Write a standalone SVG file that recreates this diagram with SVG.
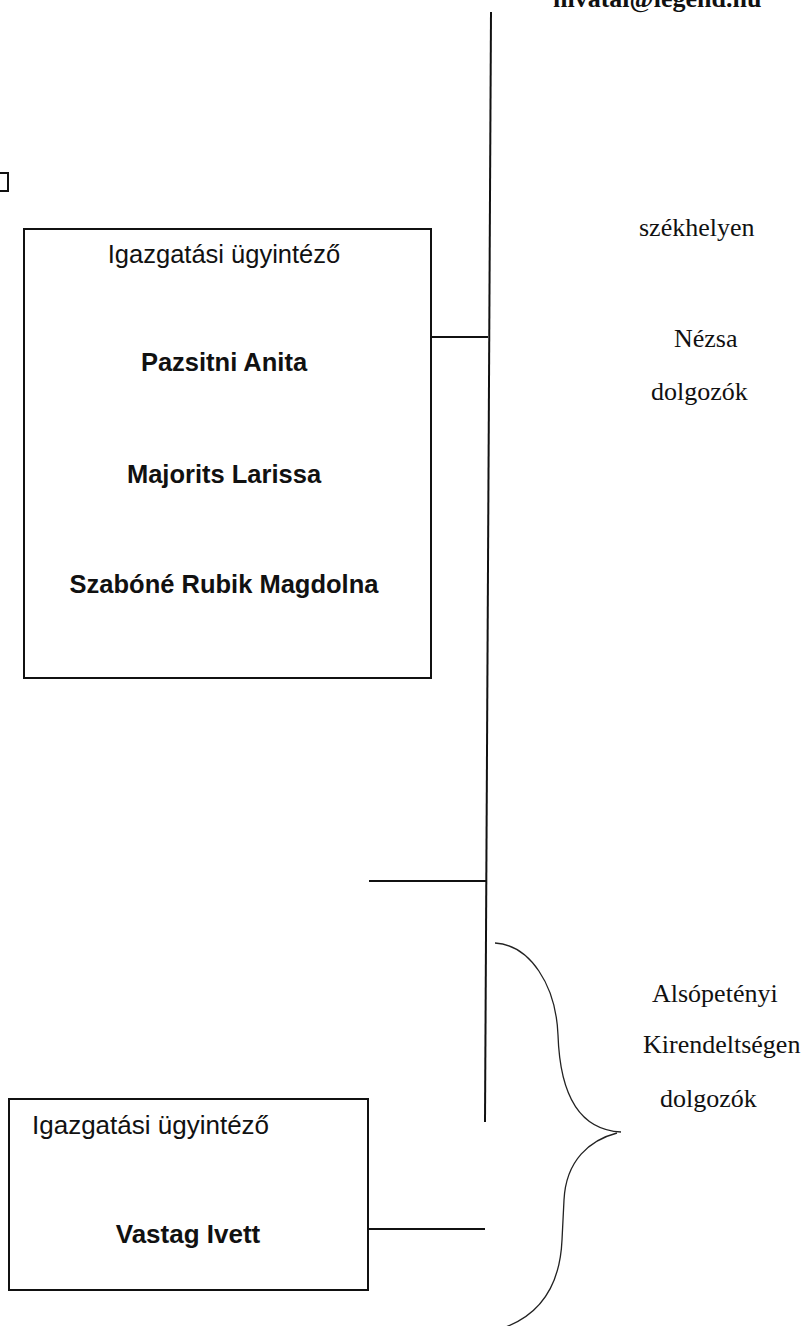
<svg xmlns="http://www.w3.org/2000/svg" width="806" height="1326" viewBox="0 0 806 1326">
<style>
.box{fill:#fff;stroke:#111;stroke-width:2}
.ln{stroke:#111;stroke-width:2;fill:none}
.br{stroke:#222;stroke-width:1.3;fill:none}
.sans{font-family:"Liberation Sans",Arial,sans-serif;fill:#111}
.b{font-weight:bold}
.serif{font-family:"Liberation Serif","Times New Roman",serif;fill:#111;font-size:26px}
</style>
<rect width="806" height="1326" fill="#fff"/>
<text x="553" y="7" class="serif b" font-size="25.5">hivatal@legend.hu</text>
<rect x="-8" y="173" width="16" height="18" class="box"/>
<g id="connectors">
<line x1="491" y1="12" x2="485" y2="1122" class="ln"/>
<line x1="431" y1="337" x2="488" y2="337" class="ln"/>
<line x1="369" y1="881" x2="487" y2="881" class="ln"/>
<line x1="368" y1="1229" x2="485" y2="1229" class="ln"/>
<path class="br" d="M495,943 C530,945 556,985 558,1035 C560,1095 580,1130 621,1132"/>
<path class="br" d="M617,1133 C590,1140 566,1160 564,1200 L562,1240 C560,1285 540,1315 503,1328"/>
</g>
<g id="node-box1">
<rect x="24" y="229" width="407" height="449" class="box"/>
<text x="224" y="263" class="sans" font-size="25.5" text-anchor="middle">Igazgatási ügyintéző</text>
<text x="224" y="371" class="sans b" font-size="25.5" text-anchor="middle">Pazsitni Anita</text>
<text x="224" y="483" class="sans b" font-size="25.5" text-anchor="middle">Majorits Larissa</text>
<text x="224" y="593" class="sans b" font-size="25.5" text-anchor="middle">Szabóné Rubik Magdolna</text>
</g>
<g id="node-box2">
<rect x="9" y="1099" width="359" height="191" class="box"/>
<text x="32" y="1134" class="sans" font-size="26">Igazgatási ügyintéző</text>
<text x="188" y="1243" class="sans b" font-size="26" text-anchor="middle">Vastag Ivett</text>
</g>
<g id="label-szekhely">
<text x="639" y="236" class="serif">székhelyen</text>
<text x="674" y="347" class="serif">Nézsa</text>
<text x="651" y="400" class="serif">dolgozók</text>
</g>
<g id="label-kirendeltseg">
<text x="652" y="1002" class="serif">Alsópetényi</text>
<text x="643" y="1053" class="serif">Kirendeltségen</text>
<text x="660" y="1107" class="serif" font-size="28">dolgozók</text>
</g>
</svg>
